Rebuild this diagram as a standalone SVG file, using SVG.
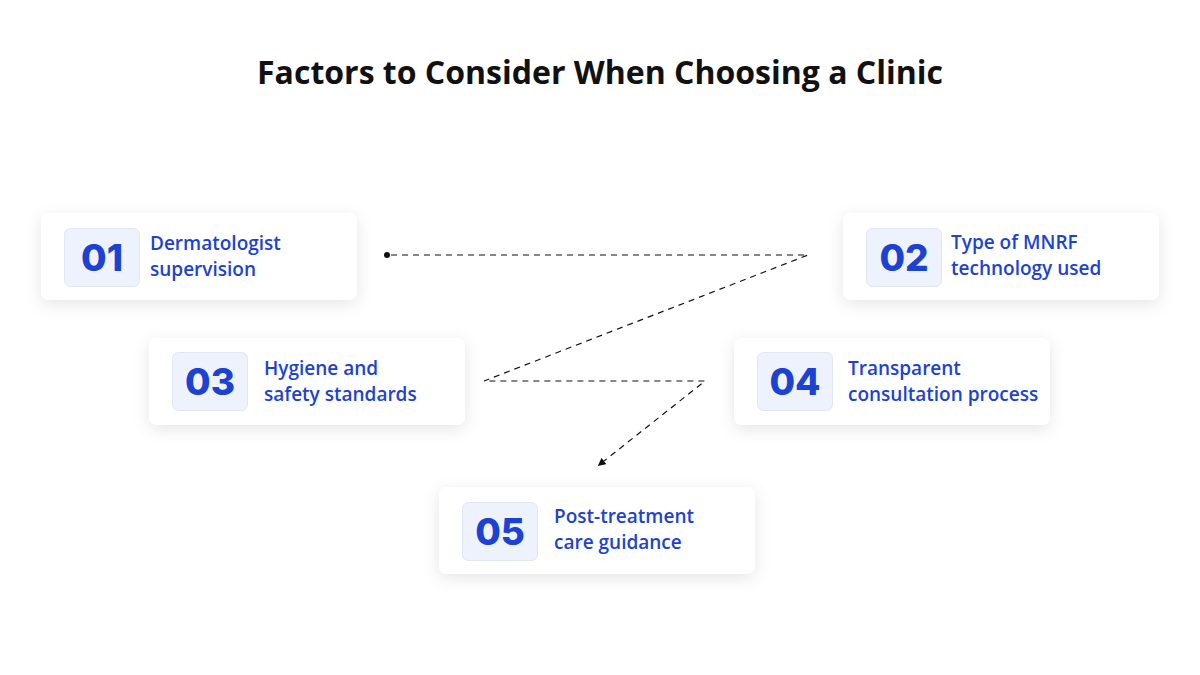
<svg xmlns="http://www.w3.org/2000/svg" width="1200" height="675" viewBox="0 0 1200 675">
<defs>
<filter id="sh" x="-20%" y="-40%" width="140%" height="190%">
<feDropShadow dx="0" dy="4" stdDeviation="8" flood-color="#000" flood-opacity="0.1"/>
</filter>
<marker id="arr" viewBox="0 0 10 10" refX="8" refY="5" markerWidth="8" markerHeight="8" orient="auto" markerUnits="userSpaceOnUse">
<path d="M0,0 L10,5 L0,10 z" fill="#111"/>
</marker>
<style>
.card{fill:#fff;filter:url(#sh)}
.nbox{fill:#eef2fd;stroke:#e1e6f2;stroke-width:1}
.num{font-family:Inter,"Liberation Sans",sans-serif;font-weight:800;font-size:37px;fill:#1c42d4;text-anchor:middle}
.lbl{font-family:"Open Sans","Liberation Sans",sans-serif;font-weight:600;font-size:19px;fill:#1c42d4}
.title{font-family:"Open Sans","Liberation Sans",sans-serif;font-weight:700;font-size:32px;fill:#111;text-anchor:middle}
.dash{fill:none;stroke:#111;stroke-width:1.2;stroke-dasharray:6 5}
</style>
</defs>
<rect width="1200" height="675" fill="#fff"/>
<text class="title" x="600" y="84">Factors to Consider When Choosing a Clinic</text>

<g id="connectors">
<circle cx="387" cy="255" r="3" fill="#111"/>
<path class="dash" d="M391,255 L808,255 L484,381 L705,381 L599,465" marker-end="url(#arr)"/>
</g>

<g id="n01">
<rect class="card" x="41" y="213" width="316" height="87" rx="8"/>
<rect class="nbox" x="64.5" y="228.5" width="75" height="58" rx="6"/>
<text class="num" x="102" y="271">01</text>
<text class="lbl" x="150" y="250">Dermatologist</text>
<text class="lbl" x="150" y="276">supervision</text>
</g>
<g id="n02">
<rect class="card" x="843" y="213" width="316" height="87" rx="8"/>
<rect class="nbox" x="866.5" y="228.5" width="75" height="58" rx="6"/>
<text class="num" x="904" y="271">02</text>
<text class="lbl" x="951" y="249">Type of MNRF</text>
<text class="lbl" x="951" y="275">technology used</text>
</g>
<g id="n03">
<rect class="card" x="149" y="338" width="316" height="87" rx="8"/>
<rect class="nbox" x="172.5" y="352.5" width="75" height="58" rx="6"/>
<text class="num" x="210" y="395">03</text>
<text class="lbl" x="264" y="375">Hygiene and</text>
<text class="lbl" x="264" y="401">safety standards</text>
</g>
<g id="n04">
<rect class="card" x="734" y="338" width="316" height="87" rx="8"/>
<rect class="nbox" x="757.5" y="352.5" width="75" height="58" rx="6"/>
<text class="num" x="795" y="395">04</text>
<text class="lbl" x="848" y="375">Transparent</text>
<text class="lbl" x="848" y="401">consultation process</text>
</g>
<g id="n05">
<rect class="card" x="439" y="487" width="316" height="87" rx="8"/>
<rect class="nbox" x="462.5" y="502.5" width="75" height="58" rx="6"/>
<text class="num" x="500" y="545">05</text>
<text class="lbl" x="554" y="523">Post-treatment</text>
<text class="lbl" x="554" y="549">care guidance</text>
</g>
</svg>
